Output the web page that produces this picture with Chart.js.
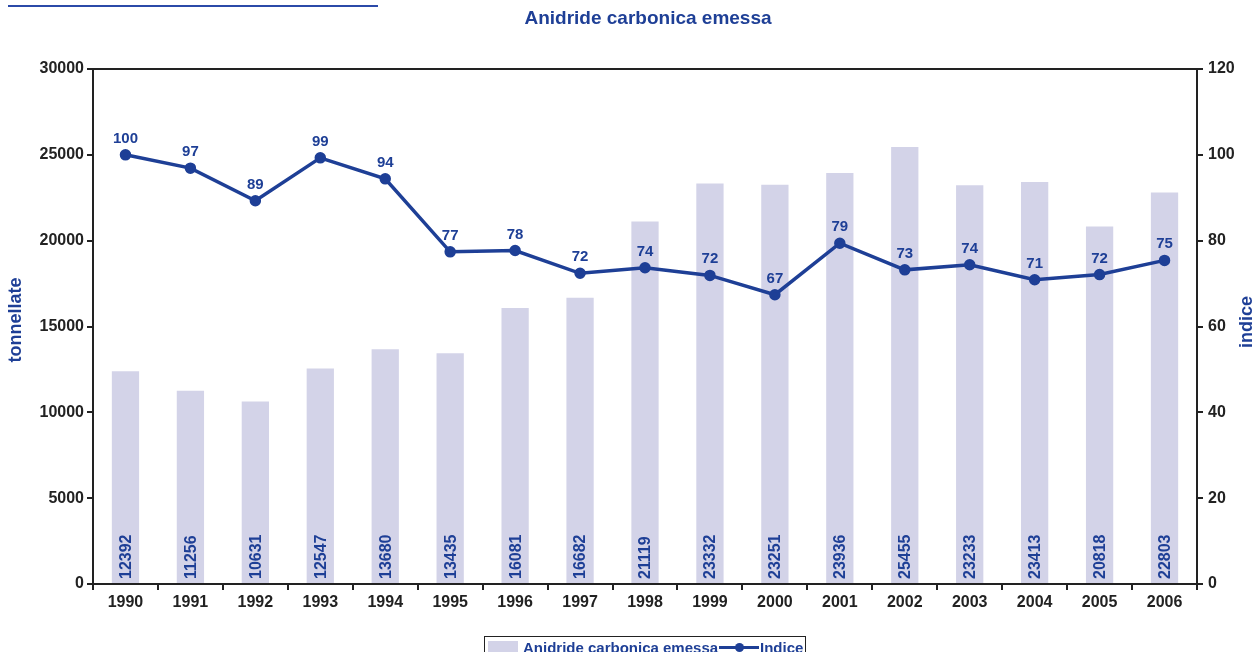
<!DOCTYPE html>
<html>
<head>
<meta charset="utf-8">
<script src="https://cdn.jsdelivr.net/npm/chart.js@4.4.0/dist/chart.umd.min.js"></script>
<style>
  html, body { margin: 0; padding: 0; background: #fff; }
  #wrap { position: relative; width: 1256px; height: 652px; overflow: hidden; }
  #topline { position: absolute; left: 8px; top: 5px; width: 370px; border-top: 2px solid #2b4aa8; }
  #legend { position: absolute; left: 484px; top: 636px; width: 322px; height: 30px;
    border: 1px solid #222; box-sizing: border-box; font: bold 15px Arial, "Liberation Sans", sans-serif;
    color: #1e3f96; }
  #legend .sw { position: absolute; left: 3px; top: 4px; width: 30px; height: 14px; background: #d3d3e8; }
  #legend .t1 { position: absolute; left: 38px; top: 2px; }
  #legend .ln { position: absolute; left: 234px; top: 9px; width: 40px; height: 3px; background: #1e3f96; }
  #legend .dt { position: absolute; left: 250px; top: 6px; width: 9px; height: 9px; border-radius: 50%; background: #1e3f96; }
  #legend .t2 { position: absolute; left: 275px; top: 2px; }
</style>
</head>
<body>
<div id="wrap">
  <div id="topline"></div>
  <canvas id="c" width="1256" height="652"></canvas>
  <div id="legend">
    <span class="sw"></span><span class="t1">Anidride carbonica emessa</span>
    <span class="ln"></span><span class="dt"></span><span class="t2">Indice</span>
  </div>
</div>
<script>
const years = ['1990','1991','1992','1993','1994','1995','1996','1997','1998','1999','2000','2001','2002','2003','2004','2005','2006'];
const emissioni = [12392, 11256, 10631, 12547, 13680, 13435, 16081, 16682, 21119, 23332, 23251, 23936, 25455, 23233, 23413, 20818, 22803];
const indice = [100, 96.9, 89.3, 99.3, 94.4, 77.4, 77.7, 72.4, 73.7, 71.9, 67.4, 79.4, 73.2, 74.4, 70.9, 72.1, 75.4];

const BLUE = '#1e3f96';
const FONT = 'Arial, "Liberation Sans", sans-serif';

const decor = {
  id: 'decor',
  afterDatasetsDraw(chart) {
    const ctx = chart.ctx;
    const a = chart.chartArea;
    ctx.save();
    // frame
    ctx.strokeStyle = '#222';
    ctx.lineWidth = 2;
    ctx.strokeRect(a.left, a.top, a.right - a.left, a.bottom - a.top);

    // bar value labels (rotated)
    ctx.fillStyle = BLUE;
    ctx.font = 'bold 16px ' + FONT;
    ctx.textAlign = 'left';
    ctx.textBaseline = 'middle';
    chart.getDatasetMeta(0).data.forEach((bar, i) => {
      ctx.save();
      ctx.translate(bar.x, a.bottom - 5);
      ctx.rotate(-Math.PI / 2);
      ctx.fillText(String(emissioni[i]), 0, 1);
      ctx.restore();
    });

    // point labels
    ctx.font = 'bold 15px ' + FONT;
    ctx.textAlign = 'center';
    ctx.textBaseline = 'alphabetic';
    chart.getDatasetMeta(1).data.forEach((pt, i) => {
      ctx.fillText(String(Math.round(indice[i])), pt.x, pt.y - 12);
    });

    // title
    ctx.font = 'bold 19px ' + FONT;
    ctx.textBaseline = 'middle';
    ctx.fillText('Anidride carbonica emessa', 648, 19);

    // axis titles
    ctx.font = 'bold 18px ' + FONT;
    ctx.save();
    ctx.translate(16, 320);
    ctx.rotate(-Math.PI / 2);
    ctx.fillText('tonnellate', 0, 0);
    ctx.restore();
    ctx.save();
    ctx.translate(1247, 322);
    ctx.rotate(-Math.PI / 2);
    ctx.fillText('indice', 0, 0);
    ctx.restore();
    ctx.restore();
  }
};

const tickFont = { family: FONT, size: 16, weight: 'bold' };

new Chart(document.getElementById('c'), {
  data: {
    labels: years,
    datasets: [{
      type: 'bar',
      label: 'Anidride carbonica emessa',
      data: emissioni,
      backgroundColor: '#d3d3e8',
      barPercentage: 0.42,
      categoryPercentage: 1,
      yAxisID: 'y',
      order: 2
    }, {
      type: 'line',
      label: 'Indice',
      data: indice,
      borderColor: BLUE,
      backgroundColor: BLUE,
      borderWidth: 3.5,
      pointRadius: 4,
      pointHoverRadius: 4,
      tension: 0,
      yAxisID: 'y1',
      order: 1
    }]
  },
  options: {
    responsive: false,
    animation: false,
    layout: { padding: { top: 69, left: 0, right: 0, bottom: 0 } },
    plugins: { legend: { display: false }, tooltip: { enabled: false } },
    scales: {
      x: {
        offset: true,
        grid: { offset: true, drawOnChartArea: false, drawTicks: true, tickLength: 6, color: '#222', lineWidth: 2 },
        border: { display: true, color: '#222', width: 2 },
        ticks: { color: '#222', font: tickFont, padding: 3, maxRotation: 0 },
        afterFit(s) { s.height = 68; }
      },
      y: {
        position: 'left',
        min: 0, max: 30000,
        ticks: { stepSize: 5000, color: '#222', font: tickFont, padding: 3, callback: v => String(v) },
        grid: { drawOnChartArea: false, drawTicks: true, tickLength: 6, color: '#222', lineWidth: 2 },
        border: { display: true, color: '#222', width: 2 },
        afterFit(s) { s.width = 93; }
      },
      y1: {
        position: 'right',
        min: 0, max: 120,
        ticks: { stepSize: 20, color: '#222', font: tickFont, padding: 5, callback: v => String(v) },
        grid: { drawOnChartArea: false, drawTicks: true, tickLength: 6, color: '#222', lineWidth: 2 },
        border: { display: true, color: '#222', width: 2 },
        afterFit(s) { s.width = 59; }
      }
    }
  },
  plugins: [decor]
});
</script>
</body>
</html>
